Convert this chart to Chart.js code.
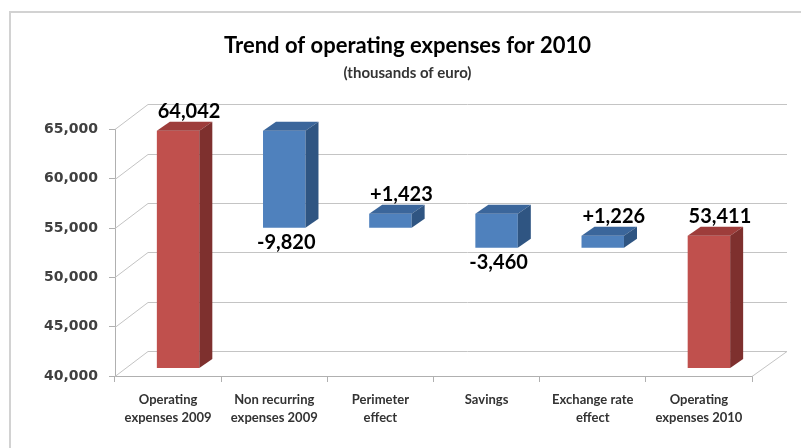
<!DOCTYPE html>
<html>
<head>
<meta charset="utf-8">
<script src="https://cdn.jsdelivr.net/npm/chart.js@4/dist/chart.umd.min.js"></script>
<style>
  body { margin: 0; background: #fff; }
  canvas { display: block; }
</style>
</head>
<body>
<canvas id="myChart" width="801" height="448"></canvas>
<script>
// chart data
const categories = [
  ['Operating', 'expenses 2009'],
  ['Non recurring', 'expenses 2009'],
  ['Perimeter', 'effect'],
  ['Savings'],
  ['Exchange rate', 'effect'],
  ['Operating', 'expenses 2010']
];
// first and last are totals, the rest are changes
const steps = [64042, -9820, 1423, -3460, 1226, 53411];
const isTotal = [true, false, false, false, false, true];
const axisMin = 40000;
const axisMax = 65000;
const axisStep = 5000;

// building floating bars from running total
var ranges = [];
var labels = [];
var running = 0;
for (var i = 0; i < steps.length; i++) {
  if (isTotal[i]) {
    ranges.push([axisMin, steps[i]]);
    running = steps[i];
    labels.push(steps[i].toLocaleString('en-US'));
  } else {
    var next = running + steps[i];
    ranges.push([Math.min(running, next), Math.max(running, next)]);
    running = next;
    labels.push((steps[i] > 0 ? '+' : '') + steps[i].toLocaleString('en-US'));
  }
}

const RED = '#C0504D', RED_TOP = '#9E3D3B', RED_SIDE = '#7E302E';
const BLUE = '#4F81BD', BLUE_TOP = '#3B669B', BLUE_SIDE = '#2F5582';
const GRID = '#c4c4c4';

// 3d offsets
const wall = {dx: 33, dy: -25};
const shift = {dx: 10, dy: -8};
const depth = {dx: 13, dy: -9};

const frame = {
  id: 'frame',
  beforeDraw(chart) {
    const c = chart.ctx;
    c.save();
    c.fillStyle = '#fff';
    c.fillRect(0, 0, chart.width, chart.height);
    c.strokeStyle = '#d2d2d2';
    c.lineWidth = 2;
    c.strokeRect(10, 12, 820, 470);
    c.restore();
  }
};

const threeD = {
  id: 'threeD',
  beforeDatasetsDraw(chart) {
    const c = chart.ctx;
    const a = chart.chartArea;
    const y = chart.scales.y;
    c.save();
    c.strokeStyle = GRID;
    c.lineWidth = 1;
    for (var v = axisMin; v <= axisMax; v += axisStep) {
      var py = Math.round(y.getPixelForValue(v)) + 0.5;
      c.beginPath();
      c.moveTo(a.left, py);
      c.lineTo(a.left + wall.dx, py + wall.dy);
      c.lineTo(a.right + wall.dx + 2, py + wall.dy);
      c.stroke();
    }
    // floor right edge
    c.beginPath();
    c.moveTo(a.right, a.bottom + 0.5);
    c.lineTo(a.right + wall.dx + 2, a.bottom + 0.5 + wall.dy);
    c.stroke();
    c.restore();

    c.save();
    c.translate(shift.dx, shift.dy);
  },
  afterDatasetsDraw(chart) {
    const c = chart.ctx;
    const meta = chart.getDatasetMeta(0);
    meta.data.forEach(function(bar, i) {
      var left = bar.x - bar.width / 2;
      var right = bar.x + bar.width / 2;
      var top = Math.min(bar.y, bar.base);
      var bottom = Math.max(bar.y, bar.base);
      // top face
      c.fillStyle = isTotal[i] ? RED_TOP : BLUE_TOP;
      c.beginPath();
      c.moveTo(left, top);
      c.lineTo(left + depth.dx, top + depth.dy);
      c.lineTo(right + depth.dx, top + depth.dy);
      c.lineTo(right, top);
      c.closePath();
      c.fill();
      // side face
      c.fillStyle = isTotal[i] ? RED_SIDE : BLUE_SIDE;
      c.beginPath();
      c.moveTo(right, top);
      c.lineTo(right + depth.dx, top + depth.dy);
      c.lineTo(right + depth.dx, bottom + depth.dy);
      c.lineTo(right, bottom);
      c.closePath();
      c.fill();
    });
    c.restore();

    // value labels
    c.save();
    c.font = 'bold 20px Lato';
    c.fillStyle = '#000';
    c.textAlign = 'center';
    meta.data.forEach(function(bar, i) {
      var top = Math.min(bar.y, bar.base) + shift.dy;
      var bottom = Math.max(bar.y, bar.base) + shift.dy;
      if (steps[i] > 0) {
        c.textBaseline = 'alphabetic';
        c.fillText(labels[i], bar.x + 21, top - 13);
      } else {
        c.textBaseline = 'top';
        c.fillText(labels[i], bar.x + 12, bottom + 5);
      }
    });
    c.restore();
  }
};

const ctx = document.getElementById('myChart').getContext('2d');
const data = {
  labels: categories,
  datasets: [{
    data: ranges,
    backgroundColor: isTotal.map(t => t ? RED : BLUE),
    borderWidth: 0,
    barPercentage: 0.4,
    categoryPercentage: 1,
    clip: false
  }]
};

const config = {
  type: 'bar',
  data: data,
  options: {
    responsive: false,
    animation: false,
    devicePixelRatio: 1,
    layout: { padding: { left: 14, right: 0, top: 0, bottom: 0 } },
    plugins: {
      legend: { display: false },
      tooltip: { enabled: false },
      title: {
        display: true,
        text: 'Trend of operating expenses for 2010',
        color: '#000',
        font: { family: 'Lato', size: 22, weight: 'bold', lineHeight: 1.2 },
        padding: { top: 33, bottom: 5 }
      },
      subtitle: {
        display: true,
        text: '(thousands of euro)',
        color: '#333',
        font: { family: 'Lato', size: 15, weight: 'bold', lineHeight: 1.2 },
        padding: { top: 0, bottom: 47 }
      }
    },
    scales: {
      x: {
        grid: { drawOnChartArea: false, drawTicks: true, tickLength: 6, color: '#b0b0b0' },
        border: { color: '#b0b0b0' },
        ticks: {
          color: '#333',
          font: { family: 'Lato', size: 13, weight: 'bold', lineHeight: 1.35 },
          padding: 9,
          maxRotation: 0,
          autoSkip: false
        },
        afterFit: s => { s.height = 72; }
      },
      y: {
        min: axisMin,
        max: axisMax,
        grid: { drawOnChartArea: false, drawTicks: true, tickLength: 6, color: '#b0b0b0' },
        border: { color: '#b0b0b0' },
        ticks: {
          stepSize: axisStep,
          color: '#404040',
          padding: 11,
          font: { family: 'DejaVu Sans', size: 14, weight: 'bold' }
        },
        afterFit: s => { s.width = 101; }
      },
      y2: {
        position: 'right',
        display: true,
        grid: { display: false },
        border: { display: false },
        ticks: { display: false },
        afterFit: s => { s.width = 49; }
      }
    }
  },
  plugins: [frame, threeD]
};

const myChart = new Chart(ctx, config);
</script>
</body>
</html>
